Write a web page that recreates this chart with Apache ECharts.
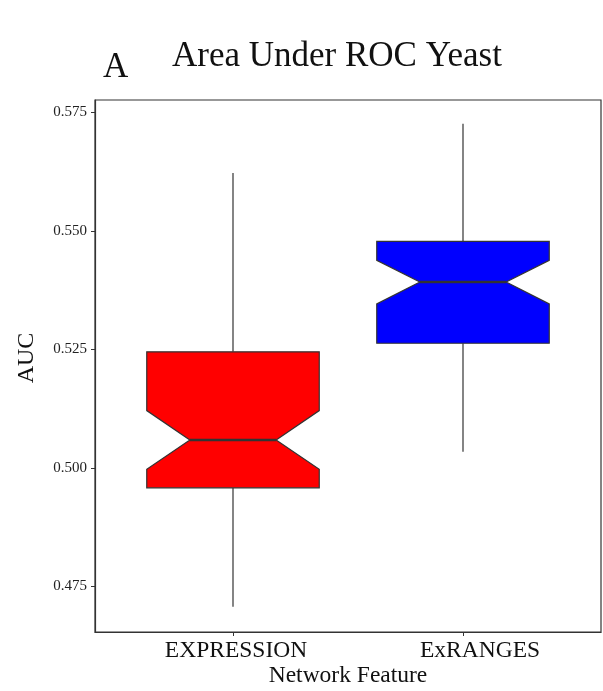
<!DOCTYPE html>
<html>
<head>
<meta charset="utf-8">
<script src="https://cdn.jsdelivr.net/npm/echarts@6/dist/echarts.min.js"></script>
<style>
  html, body { margin: 0; padding: 0; background: #fff; }
  #chart { width: 603px; height: 691px; }
</style>
</head>
<body>
<div id="chart"></div>
<script>
// Notched box summaries of AUC per network feature
const categories = ['EXPRESSION', 'ExRANGES'];
const whiskerLow = [0.4707, 0.5034];
const q1 = [0.4958, 0.5263];
const notchLow = [0.4997, 0.5346];
const median = [0.5059, 0.5392];
const notchHigh = [0.5121, 0.5438];
const q3 = [0.5245, 0.5478];
const whiskerHigh = [0.5622, 0.5726];
const boxColors = ['#FF0000', '#0000FF'];
const yTicks = [0.475, 0.500, 0.525, 0.550, 0.575];

const SERIF = '"Liberation Serif", "DejaVu Serif", serif';
const BOX_W = 0.75;      // box width in category units
const NOTCH_RATIO = 0.5; // notch width relative to box width

const data = categories.map((c, i) => [i + 1, whiskerLow[i], q1[i], notchLow[i], median[i], notchHigh[i], q3[i], whiskerHigh[i]]);

function renderItem(params, api) {
  const x = api.value(0);
  const idx = params.dataIndex;
  const p = (v) => api.coord([x, v]);
  const halfW = api.size([BOX_W / 2, 0])[0];
  const notchHalf = halfW * NOTCH_RATIO;
  const cx = p(api.value(4))[0];
  const yLo = p(api.value(1))[1];
  const yQ1 = p(api.value(2))[1];
  const yNl = p(api.value(3))[1];
  const yMed = p(api.value(4))[1];
  const yNh = p(api.value(5))[1];
  const yQ3 = p(api.value(6))[1];
  const yHi = p(api.value(7))[1];
  const L = cx - halfW, R = cx + halfW;
  const nL = cx - notchHalf, nR = cx + notchHalf;
  return {
    type: 'group',
    children: [
      { type: 'line', shape: { x1: cx, y1: yHi, x2: cx, y2: yQ3 }, style: { stroke: '#333', lineWidth: 1.2 } },
      { type: 'line', shape: { x1: cx, y1: yQ1, x2: cx, y2: yLo }, style: { stroke: '#333', lineWidth: 1.2 } },
      {
        type: 'polygon',
        shape: { points: [[L, yQ3], [R, yQ3], [R, yNh], [nR, yMed], [R, yNl], [R, yQ1], [L, yQ1], [L, yNl], [nL, yMed], [L, yNh]] },
        style: { fill: boxColors[idx], stroke: '#333', lineWidth: 1.2 }
      },
      { type: 'line', shape: { x1: nL, y1: yMed, x2: nR, y2: yMed }, style: { stroke: '#333', lineWidth: 2.4 } }
    ]
  };
}

const labelFont = { fontFamily: SERIF, fontSize: 23.5, color: '#111' };

const chart = echarts.init(document.getElementById('chart'), null, { renderer: 'canvas' });
chart.setOption({
  animation: false,
  backgroundColor: '#fff',
  grid: {
    left: 95, right: 2, top: 100, bottom: 59,
    outerBoundsMode: 'none',
    show: true, borderColor: '#333', borderWidth: 1.2, backgroundColor: 'transparent'
  },
  graphic: [
    { type: 'text', left: 103, top: 50, style: { text: 'A', font: '35px ' + SERIF, fill: '#111' } },
    { type: 'text', left: 172, top: 39, style: { text: 'Area Under ROC Yeast', font: '35px ' + SERIF, fill: '#111' } }
  ],
  xAxis: {
    type: 'value',
    min: 0.4, max: 2.6,
    name: 'Network Feature',
    nameLocation: 'middle',
    nameGap: 32,
    nameMoveOverlap: false,
    nameTextStyle: { fontFamily: SERIF, fontSize: 23.5, color: '#111' },
    axisLine: { show: true, lineStyle: { color: '#333', width: 1.2 } },
    axisTick: { show: true, length: 4, customValues: [1, 2], lineStyle: { color: '#333' } },
    axisLabel: {
      customValues: [1, 2],
      formatter: (v) => {
        const i = Math.round(v) - 1;
        return categories[i] ? '{c' + i + '|' + categories[i] + '}' : '';
      },
      fontFamily: SERIF, fontSize: 23.5, color: '#111', margin: 7,
      rich: {
        c0: Object.assign({ padding: [0, 0, 0, 6] }, labelFont),
        c1: Object.assign({ padding: [0, 0, 0, 34] }, labelFont)
      }
    },
    splitLine: { show: false }
  },
  yAxis: {
    type: 'value',
    min: 0.4654, max: 0.5776,
    name: 'AUC',
    nameLocation: 'middle',
    nameGap: 56,
    nameMoveOverlap: false,
    nameRotate: 90,
    nameTextStyle: { fontFamily: SERIF, fontSize: 24, color: '#111', padding: [0, 0, 0, 16] },
    axisLine: { show: true, lineStyle: { color: '#333', width: 1.2 } },
    axisTick: { show: true, length: 4, customValues: yTicks, lineStyle: { color: '#333' } },
    axisLabel: {
      customValues: yTicks,
      formatter: (v) => v.toFixed(3),
      fontFamily: SERIF, fontSize: 15, color: '#222', margin: 8
    },
    splitLine: { show: false }
  },
  series: [{
    type: 'custom',
    renderItem: renderItem,
    encode: { x: 0, y: [1, 2, 3, 4, 5, 6, 7] },
    data: data
  }]
});
</script>
</body>
</html>
